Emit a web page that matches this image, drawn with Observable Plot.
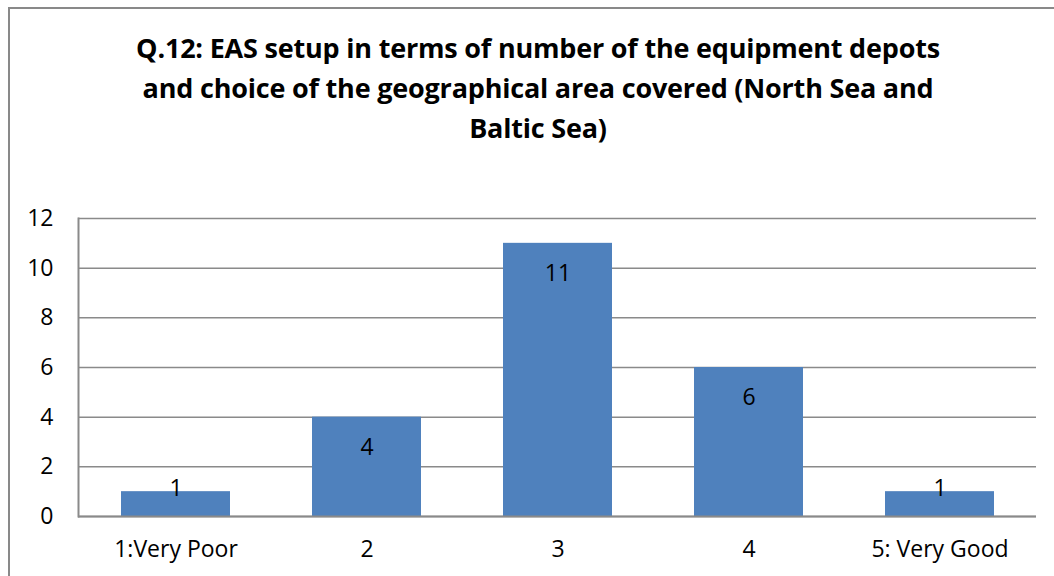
<!DOCTYPE html>
<html>
<head>
<meta charset="utf-8">
<script src="https://cdn.jsdelivr.net/npm/d3@7"></script>
<script src="https://cdn.jsdelivr.net/npm/@observablehq/plot@0.6"></script>
<style>
  html, body { margin: 0; padding: 0; background: #fff; width: 1054px; height: 576px; overflow: hidden; }
  #border { position: absolute; left: 8px; top: 7px; width: 1100px; height: 700px; border: 2px solid #898989; box-sizing: border-box; z-index: 2; pointer-events: none; }
  #title { position: absolute; left: 38px; width: 1000px; top: 28px; text-align: center;
    font-family: "Open Sans", sans-serif; font-weight: bold; font-size: 27px; line-height: 40px; color: #000; letter-spacing: -0.2px; }
  #chart { position: absolute; left: 0; top: 190px; }
</style>
</head>
<body>
<div id="border"></div>
<div id="title">Q.12: EAS setup in terms of number of the equipment depots<br>and choice of the geographical area covered (North Sea and<br>Baltic Sea)</div>
<div id="chart"></div>
<script>
const categories = ["1:Very Poor", "2", "3", "4", "5: Very Good"];
const counts = [1, 4, 11, 6, 1];
const yTicks = [0, 2, 4, 6, 8, 10, 12];

const data = categories.map((c, i) => ({category: c, value: counts[i]}));

const plot = Plot.plot({
  width: 1054,
  height: 386,
  marginTop: 28,
  marginBottom: 60,
  marginLeft: 78,
  marginRight: 18,
  style: {fontFamily: "'Open Sans', sans-serif", fontSize: "23px", color: "#000", background: "transparent"},
  x: {domain: categories, paddingInner: 0.43, paddingOuter: 0.215, label: null},
  y: {domain: [0, 12], label: null},
  marks: [
    Plot.ruleY(yTicks, {stroke: "#8a8a8a", strokeWidth: 1.5}),
    Plot.barY(data, {x: "category", y: "value", fill: "#4F81BD"}),
    Plot.ruleY([0], {stroke: "#8a8a8a", strokeWidth: 2}),
    Plot.frame({anchor: "left", stroke: "#8a8a8a", strokeWidth: 2}),
    Plot.text(data.filter(d => d.value > 1), {x: "category", y: "value", text: d => String(d.value), dy: 30, fill: "#000", fontSize: 23}),
    Plot.text(data.filter(d => d.value <= 1), {x: "category", y: "value", text: d => String(d.value), dy: -3, fill: "#000", fontSize: 23}),
    Plot.axisX({tickSize: 0, tickPadding: 24, fontSize: 23, fill: "#000"}),
    Plot.axisY({ticks: yTicks, tickSize: 0, tickPadding: 25, fontSize: 23, fill: "#000", tickFormat: d => String(d)})
  ]
});
document.getElementById("chart").appendChild(plot);
</script>
</body>
</html>
